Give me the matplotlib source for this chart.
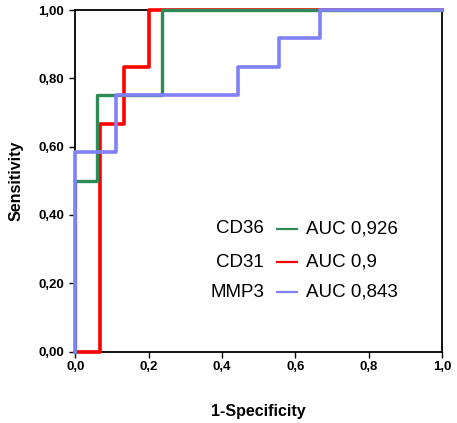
import matplotlib
matplotlib.use('Agg')
import matplotlib.pyplot as plt

plt.rcParams['font.family'] = ['Liberation Sans', 'DejaVu Sans']

# ROC points (1-Specificity, Sensitivity)
cd31_fpr = [0.0, 0.067, 0.067, 0.133, 0.133, 0.2, 0.2, 1.0]
cd31_tpr = [0.0, 0.0, 0.667, 0.667, 0.833, 0.833, 1.0, 1.0]

cd36_fpr = [0.0, 0.0, 0.059, 0.059, 0.235, 0.235, 1.0]
cd36_tpr = [0.0, 0.5, 0.5, 0.75, 0.75, 1.0, 1.0]

mmp3_fpr = [0.0, 0.0, 0.111, 0.111, 0.444, 0.444, 0.556, 0.556, 0.667, 0.667, 1.0]
mmp3_tpr = [0.0, 0.583, 0.583, 0.75, 0.75, 0.833, 0.833, 0.917, 0.917, 1.0, 1.0]

names = ['CD36', 'CD31', 'MMP3']
aucs = ['AUC 0,926', 'AUC 0,9', 'AUC 0,843']
colors = ['#2E8B57', '#FF0000', '#8080F8']

x_ticks = [0.0, 0.2, 0.4, 0.6, 0.8, 1.0]
x_labels = ['0,0', '0,2', '0,4', '0,6', '0,8', '1,0']
y_ticks = [0.0, 0.2, 0.4, 0.6, 0.8, 1.0]
y_labels = ['0,00', '0,20', '0,40', '0,60', '0,80', '1,00']

fig = plt.figure(figsize=(4.57, 4.23), dpi=100)
ax = fig.add_axes([0.165, 0.169, 0.802, 0.807])

ax.plot(cd31_fpr, cd31_tpr, color=colors[1], lw=2.6, clip_on=False, zorder=3)
ax.plot(cd36_fpr, cd36_tpr, color=colors[0], lw=2.4, clip_on=False, zorder=4)
ax.plot(mmp3_fpr, mmp3_tpr, color=colors[2], lw=2.6, clip_on=False, zorder=5)

ax.set_xlim(0, 1)
ax.set_ylim(0, 1)
ax.set_xticks(x_ticks)
ax.set_xticklabels(x_labels, fontsize=9.5, fontweight='bold')
ax.set_yticks(y_ticks)
ax.set_yticklabels(y_labels, fontsize=9.5, fontweight='bold')
ax.tick_params(axis='x', length=4, width=1, pad=3)
ax.tick_params(axis='y', length=4, width=1, pad=4)
for s in ax.spines.values():
    s.set_linewidth(1.3)

ax.set_xlabel('1-Specificity', fontsize=11.5, fontweight='bold', labelpad=22)
ax.set_ylabel('Sensitivity', fontsize=11.5, fontweight='bold', labelpad=11)

# legend drawn as text + short line segments
ys = [0.359, 0.262, 0.174]
for name, auc, c, y in zip(names, aucs, colors, ys):
    ax.text(0.515, y, name, ha='right', va='center', fontsize=13.5)
    ax.plot([0.548, 0.608], [y, y], color=c, lw=1.6, solid_capstyle='butt')
    ax.text(0.63, y, auc, ha='left', va='center', fontsize=13.5)

fig.savefig('out.png', dpi=100)
